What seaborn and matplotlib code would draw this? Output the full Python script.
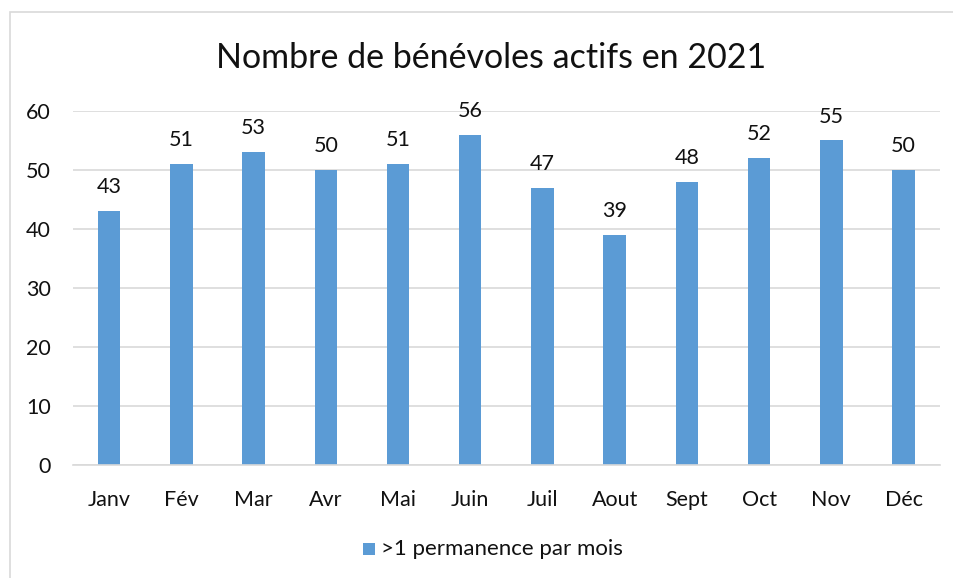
import matplotlib
matplotlib.use("Agg")
import matplotlib.pyplot as plt
import seaborn as sns
import pandas as pd
from matplotlib.patches import Rectangle

months = ["Janv", "Fév", "Mar", "Avr", "Mai", "Juin", "Juil", "Aout", "Sept", "Oct", "Nov", "Déc"]
benevoles = [43, 51, 53, 50, 51, 56, 47, 39, 48, 52, 55, 50]
series_name = ">1 permanence par mois"

df = pd.DataFrame({"mois": months, "n": benevoles, "serie": series_name})

sns.set_theme(style="white")
plt.rcParams["font.family"] = ["Lato", "DejaVu Sans"]

blue = "#5B9BD5"
fig = plt.figure(figsize=(9.54, 5.78), dpi=100)
ax = fig.add_axes([0.0765, 0.1955, 0.9085, 0.6125])

sns.barplot(data=df, x="mois", y="n", hue="serie", palette=[blue],
            width=0.31, ax=ax, legend=False, saturation=1, linewidth=0)

ax.set_ylim(0, 60)
ax.set_yticks(range(0, 61, 10))
ax.yaxis.grid(True, color="#D9D9D9", linewidth=1.2)
ax.set_axisbelow(True)
for s in ["top", "right", "left"]:
    ax.spines[s].set_visible(False)
ax.spines["bottom"].set_color("#D9D9D9")
ax.spines["bottom"].set_linewidth(1.2)
ax.tick_params(axis="both", length=0, labelsize=15.5, colors="#111111")
ax.tick_params(axis="y", pad=16)
ax.tick_params(axis="x", pad=18)
ax.set_xlabel("")
ax.set_ylabel("")

for c in ax.containers:
    ax.bar_label(c, padding=10, fontsize=15.5, color="#111111")

fig.text(0.515, 0.9, "Nombre de bénévoles actifs en 2021", ha="center", va="center",
         fontsize=24.5, color="#111111")

# legend
fig.patches.append(Rectangle((0.381, 0.04), 0.0125, 0.021, transform=fig.transFigure,
                             facecolor=blue, edgecolor="none"))
fig.text(0.399, 0.05, series_name, ha="left", va="center", fontsize=16, color="#111111")

# chart border
fig.patches.append(Rectangle((0.0105, -0.05), 1.0, 1.03, transform=fig.transFigure,
                             facecolor="none", edgecolor="#D9D9D9", linewidth=1.2))

fig.savefig("out.png", dpi=100)
